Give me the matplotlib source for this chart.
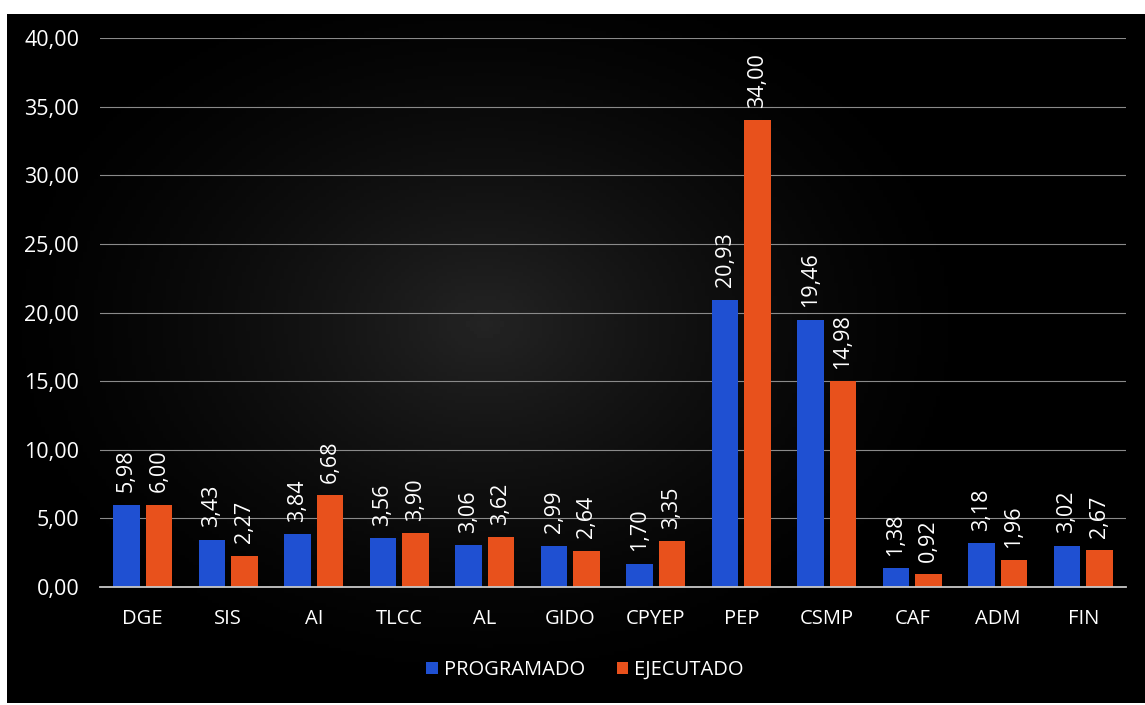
import numpy as np
import matplotlib
matplotlib.use("Agg")
from matplotlib import pyplot as plt

categorias = ["DGE", "SIS", "AI", "TLCC", "AL", "GIDO", "CPYEP", "PEP", "CSMP", "CAF", "ADM", "FIN"]
programado = [5.98, 3.43, 3.84, 3.56, 3.06, 2.99, 1.70, 20.93, 19.46, 1.38, 3.18, 3.02]
ejecutado = [6.00, 2.27, 6.68, 3.90, 3.62, 2.64, 3.35, 34.00, 14.98, 0.92, 1.96, 2.67]
yticks = [0, 5, 10, 15, 20, 25, 30, 35, 40]

AZUL = "#1f50d2"
NARANJA = "#e8511c"

plt.rcParams['font.family'] = ['Open Sans', 'DejaVu Sans']

fig = plt.figure(figsize=(11.45, 7.05), dpi=100, facecolor="white")

# fondo negro con un leve brillo gris en el centro
bg = fig.add_axes([7/1145, 2/705, 1138/1145, 689/705])
yy, xx = np.mgrid[0:1:200j, 0:1:300j]
r = np.sqrt(((xx - 0.42) / 0.45) ** 2 + ((yy - 0.45) / 0.55) ** 2)
glow = np.clip(1 - r, 0, 1) ** 1.5 * 0.14
bg.imshow(glow, cmap="gray", vmin=0, vmax=1, aspect="auto", extent=[0, 1, 0, 1])
bg.set_axis_off()

ax = fig.add_axes([100/1145, 1 - 587/705, 1026/1145, 549/705])
ax.patch.set_alpha(0)

x = np.arange(len(categorias))
w = 0.31
off = 0.19
b1 = ax.bar(x - off, programado, w, color=AZUL, label="PROGRAMADO", zorder=3)
b2 = ax.bar(x + off, ejecutado, w, color=NARANJA, label="EJECUTADO", zorder=3)

for bars, vals in ((b1, programado), (b2, ejecutado)):
    for b, v in zip(bars, vals):
        ax.annotate(f"{v:.2f}".replace(".", ","),
                    (b.get_x() + b.get_width() / 2, v),
                    xytext=(0, 9), textcoords="offset points",
                    rotation=90, ha="center", va="bottom",
                    color="white", fontsize=15.5)

ax.set_xlim(-0.5, len(categorias) - 0.5)
ax.set_ylim(0, 40)
ax.set_yticks(yticks)
ax.set_yticklabels([f"{v:.2f}".replace(".", ",") for v in yticks])
ax.set_xticks(x)
ax.set_xticklabels(categorias)
ax.tick_params(axis="y", length=0, pad=15, colors="white", labelsize=15.5)
ax.tick_params(axis="x", length=0, pad=16, colors="white", labelsize=14.5)
ax.grid(axis="y", color="#8a8a8a", linewidth=0.8, zorder=0)
for s in ["top", "right", "left"]:
    ax.spines[s].set_visible(False)
ax.spines["bottom"].set_color("#c8c8c8")
ax.spines["bottom"].set_linewidth(1.3)
ax.spines["bottom"].set_zorder(4)

leg = fig.legend(handles=[b1, b2], loc="center", bbox_to_anchor=(585/1145, 1 - 670/705),
                 ncol=2, frameon=False, fontsize=14.5, handlelength=0.55, handleheight=0.55,
                 handletextpad=0.3, columnspacing=1.6)
for t in leg.get_texts():
    t.set_color("white")

plt.savefig("out.png", dpi=100, facecolor="white")
